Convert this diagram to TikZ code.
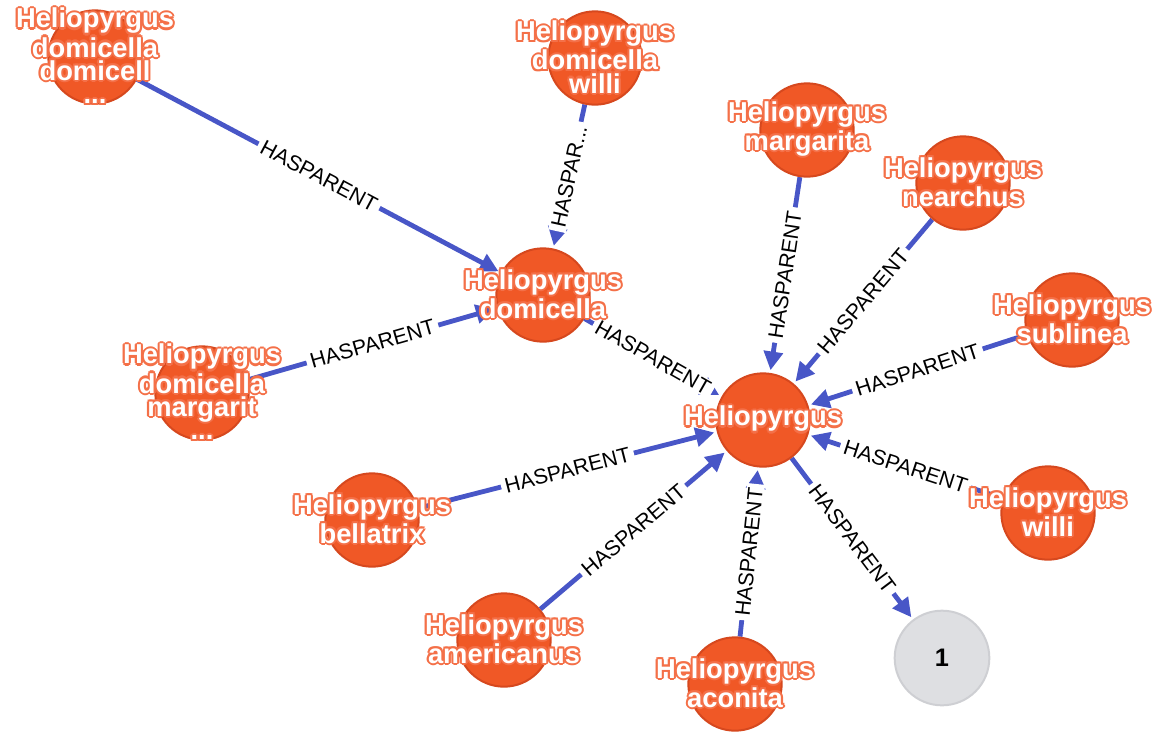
\documentclass[tikz,border=0pt]{standalone}
\usepackage{fontspec}
\setmainfont{Liberation Sans}
\usepackage{contour}
\usetikzlibrary{arrows.meta,backgrounds,positioning}
\definecolor{taxonfill}{RGB}{240,88,38}
\definecolor{taxonline}{RGB}{214,72,30}
\definecolor{taxonhalo}{RGB}{244,112,72}
\definecolor{relblue}{RGB}{72,86,199}
\definecolor{countfill}{RGB}{222,223,226}
\definecolor{countline}{RGB}{206,207,211}
\contourlength{1.6pt}
\contournumber{8}
\tikzset
{
    taxon/.style     = {circle, fill=taxonfill, draw=taxonline, line width=1.5pt, minimum size=70pt, inner sep=0pt, label={[taxontext]center:{#1}}},
    taxontext/.style = {text=white, align=center, font=\fontsize{20.5}{17.5}\selectfont\bfseries},
    countnode/.style = {circle, fill=countfill, draw=countline, line width=1.5pt, minimum size=71pt, inner sep=0pt, font=\fontsize{19}{21}\selectfont\bfseries},
    arrow/.style     = {draw=relblue, line width=3.6pt, -{Triangle[length=14pt,width=14pt]}, shorten >=2pt},
    relation/.style  = {sloped, fill=white, text=black, inner xsep=3pt, inner ysep=1pt, font=\fontsize{16}{18}\selectfont}
}

\begin{document}
\begin{tikzpicture}[x=0.75pt, y=-0.75pt]
	 \newcommand\halo[1]{\contour{taxonhalo}{#1}}
	 \useasboundingbox (0,0) rectangle (1157,733);

   \node (hel)    [taxon={\halo{Heliopyrgus}}]                                              at (763, 420) {};
   \node (dom)    [taxon={\halo{Heliopyrgus}\\\halo{domicella}}]                            at (543, 295) {};
   \node (domdom) [taxon={\halo{Heliopyrgus}\\\halo{domicella}\\\halo{domicell}\\\halo{...}}] at (95, 57)   {};
   \node (domwil) [taxon={\halo{Heliopyrgus}\\\halo{domicella}\\\halo{willi}}]              at (595, 58)  {};
   \node (dommar) [taxon={\halo{Heliopyrgus}\\\halo{domicella}\\\halo{margarit}\\\halo{...}}] at (202, 393) {};
   \node (mar)    [taxon={\halo{Heliopyrgus}\\\halo{margarita}}]                            at (807, 130) {};
   \node (nea)    [taxon={\halo{Heliopyrgus}\\\halo{nearchus}}]                             at (963, 183) {};
   \node (sub)    [taxon={\halo{Heliopyrgus}\\\halo{sublinea}}]                             at (1072, 320) {};
   \node (wil)    [taxon={\halo{Heliopyrgus}\\\halo{willi}}]                                at (1048, 513) {};
   \node (aco)    [taxon={\halo{Heliopyrgus}\\\halo{aconita}}]                              at (735, 684) {};
   \node (ame)    [taxon={\halo{Heliopyrgus}\\\halo{americanus}}]                           at (504, 640) {};
   \node (bel)    [taxon={\halo{Heliopyrgus}\\\halo{bellatrix}}]                            at (372, 520) {};
   \node (cnt)    [countnode]                                                               at (942, 658) {1};

	 \begin{scope}[on background layer]
	 \path
		  (domdom) edge[arrow]  node[relation] {HASPARENT} (dom)
			(domwil) edge[arrow]  node[relation] {HASPAR...} (dom)
			(dommar) edge[arrow]  node[relation] {HASPARENT} (dom)
			(dom)    edge[arrow]  node[relation] {HASPARENT} (hel)
			(mar)    edge[arrow]  node[relation] {HASPARENT} (hel)
			(nea)    edge[arrow]  node[relation] {HASPARENT} (hel)
			(sub)    edge[arrow]  node[relation] {HASPARENT} (hel)
			(wil)    edge[arrow]  node[relation] {HASPARENT} (hel)
			(hel)    edge[arrow]  node[relation] {HASPARENT} (cnt)
			(aco)    edge[arrow]  node[relation] {HASPARENT} (hel)
			(ame)    edge[arrow]  node[relation] {HASPARENT} (hel)
			(bel)    edge[arrow]  node[relation] {HASPARENT} (hel);
	 \end{scope}
\end{tikzpicture}
\end{document}
